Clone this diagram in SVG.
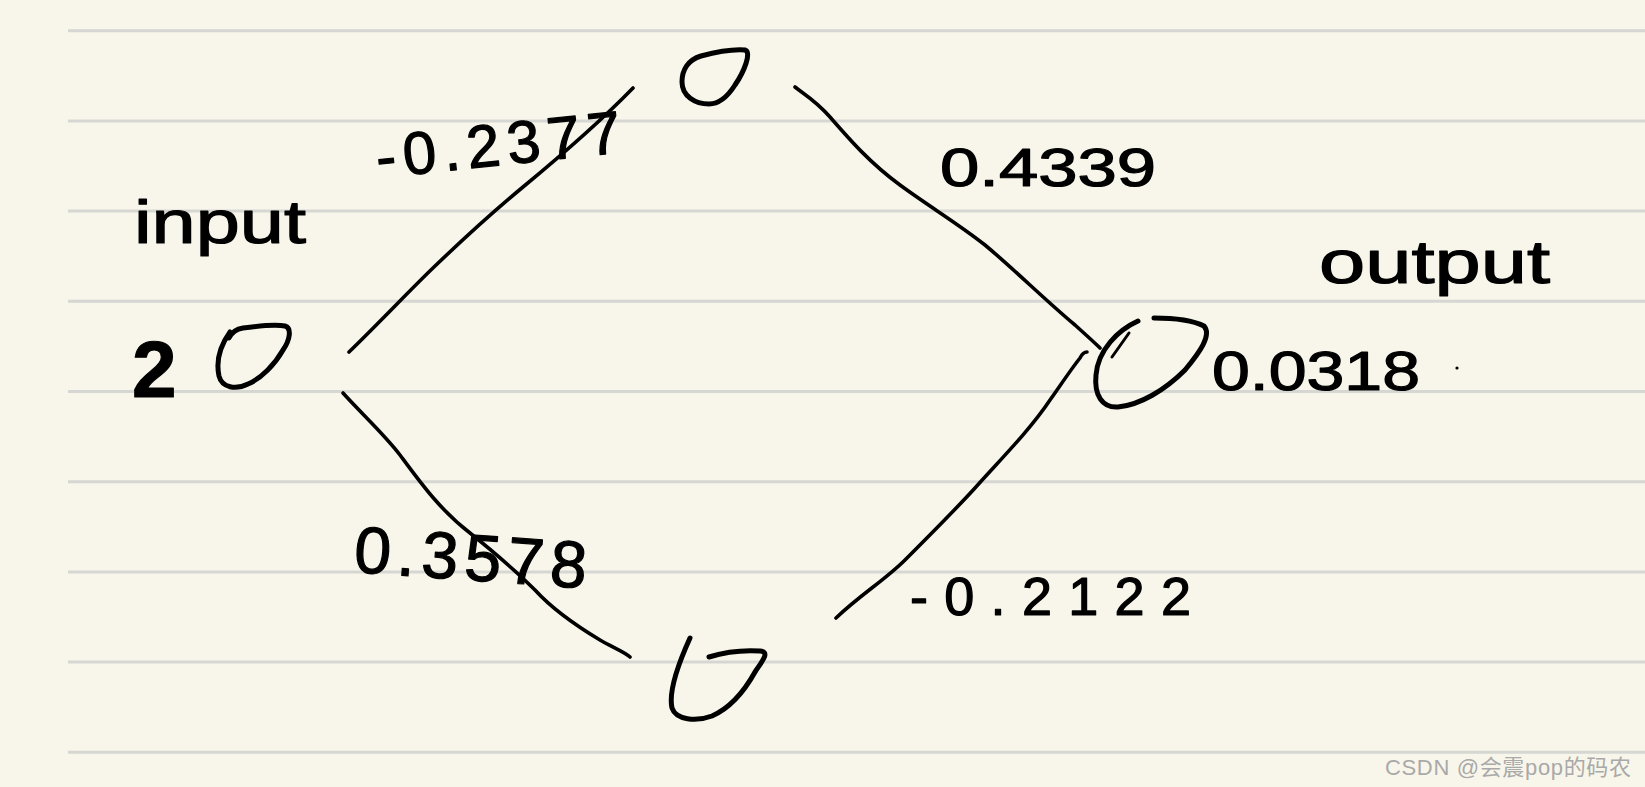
<svg xmlns="http://www.w3.org/2000/svg" width="1645" height="787" viewBox="0 0 1645 787">
<style>
.bg{fill:#f8f6ea}
.rule{stroke:#d6d6d3;stroke-width:3}
.ink{fill:none;stroke:#000;stroke-linecap:round;stroke-linejoin:round}
.node{stroke-width:5}
.edge{stroke-width:3.6}
.hand{font-family:"Liberation Sans","DejaVu Sans",sans-serif;fill:#000;stroke:#000;stroke-width:1.2;stroke-linejoin:round}
.wm{font-family:"Liberation Sans","Noto Sans CJK SC",sans-serif;fill:#a9a9a9;font-size:22px}
</style>
<rect class="bg" x="0" y="0" width="1645" height="787"/>
<g id="ruled-lines">
<line class="rule" x1="68" y1="30.7" x2="1645" y2="30.7"/>
<line class="rule" x1="68" y1="120.9" x2="1645" y2="120.9"/>
<line class="rule" x1="68" y1="211.1" x2="1645" y2="211.1"/>
<line class="rule" x1="68" y1="301.3" x2="1645" y2="301.3"/>
<line class="rule" x1="68" y1="391.5" x2="1645" y2="391.5"/>
<line class="rule" x1="68" y1="481.7" x2="1645" y2="481.7"/>
<line class="rule" x1="68" y1="571.9" x2="1645" y2="571.9"/>
<line class="rule" x1="68" y1="662.1" x2="1645" y2="662.1"/>
<line class="rule" x1="68" y1="752.3" x2="1645" y2="752.3"/>
</g>
<g id="connectors">
<path class="ink edge" d="M349 352 C380 322,410 290,434 267 S500 206,523 187 S600 122,633 88"/>
<path class="ink edge" d="M343 393 C360 412,385 435,400 455 C420 482,440 510,470 533 C495 553,515 570,535 590 C555 612,580 628,600 640 C612 647,625 652,630 657"/>
<path class="ink edge" d="M795 87 C805 95,815 100,830 117 C850 140,870 163,900 185 C930 207,960 225,985 245 C1015 270,1045 300,1075 325 C1085 334,1095 343,1100 348"/>
<path class="ink edge" d="M836 618 C860 595,885 580,905 560 C930 535,955 510,975 488 C1000 460,1030 430,1050 400 C1062 383,1072 368,1080 358 C1082 354,1084 352,1087 352"/>
<text class="hand" x="378" y="178" font-size="60" textLength="246" lengthAdjust="spacing" transform="rotate(-6 378 178)">-0.2377</text>
<text class="hand" x="353" y="572" font-size="66" textLength="233" lengthAdjust="spacing" transform="rotate(4 353 572)">0.3578</text>
<text class="hand" x="940" y="186" font-size="54" textLength="216" lengthAdjust="spacingAndGlyphs">0.4339</text>
<text class="hand" x="910" y="615" font-size="54" textLength="281" lengthAdjust="spacing">-0.2122</text>
</g>
<g id="node-input">
<path class="ink node" d="M229 338 C232 332,236 329,243 328 C258 326,274 324,285 326 C292 328,290 340,283 350 C275 364,262 378,248 384 C236 390,222 388,219 376 C216 362,220 346,230 332"/>
<text class="hand" x="132" y="397" font-size="80" font-weight="bold">2</text>
<text class="hand" x="134" y="243" font-size="62" textLength="172" lengthAdjust="spacingAndGlyphs">input</text>
</g>
<g id="node-hidden-top">
<path class="ink node" d="M701 56 C716 52,732 49,745 50 C752 52,744 72,735 85 C728 96,720 104,709 104 C695 104,682 96,682 82 C682 70,688 60,701 56"/>
</g>
<g id="node-hidden-bottom">
<path class="ink node" d="M690 638 C680 660,668 690,672 708 C676 720,696 722,712 716 C730 708,745 690,755 672 C763 660,770 652,760 651 C745 650,725 652,709 657"/>
</g>
<g id="node-output">
<path class="ink node" d="M1138 321 C1118 330,1098 350,1096 375 C1094 395,1102 408,1118 407 C1140 405,1165 390,1185 370 C1200 352,1212 335,1204 326 C1192 320,1172 318,1154 318"/>
<path class="ink" stroke-width="3" d="M1129 333 L1112 357"/>
<text class="hand" x="1319" y="283" font-size="62" textLength="231" lengthAdjust="spacingAndGlyphs">output</text>
<text class="hand" x="1212" y="390" font-size="56" textLength="208" lengthAdjust="spacingAndGlyphs">0.0318</text>
<circle cx="1457" cy="368" r="1.6" fill="#000"/>
</g>
<text class="wm" x="1385" y="775" textLength="246" lengthAdjust="spacing">CSDN @会震pop的码农</text>
</svg>
